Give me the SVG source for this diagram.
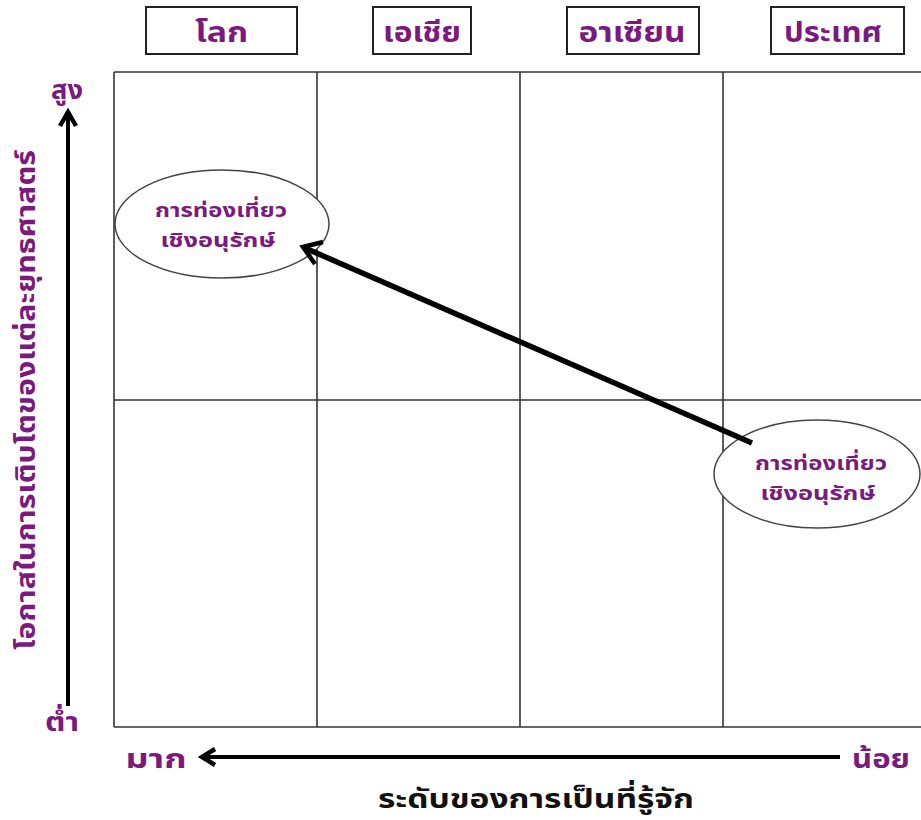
<svg xmlns="http://www.w3.org/2000/svg" width="921" height="820" viewBox="0 0 921 820">
<style>
.t{font-family:"Noto Sans Thai","Tahoma","DejaVu Sans",sans-serif;font-weight:bold;fill:#7b1a7e}
.h{font-size:28px;text-anchor:middle}
.e{font-size:20px;text-anchor:middle}
.box{fill:#fff;stroke:#222;stroke-width:2}
.grid{stroke:#333;stroke-width:1.6;fill:none}
.ell{fill:#fff;stroke:#444;stroke-width:1.5}
.ax{stroke:#000;fill:none;stroke-width:4}
.head{stroke:#000;fill:none;stroke-width:4.5;stroke-linejoin:miter}
</style>
<rect width="921" height="820" fill="#fff"/>
<g id="grid">
<line class="grid" x1="114" y1="72" x2="921" y2="72" stroke-width="3" stroke="#666"/>
<line class="grid" x1="114" y1="727" x2="921" y2="727" stroke-width="2.5" stroke="#444"/>
<line class="grid" x1="114" y1="72" x2="114" y2="727" stroke-width="2.5" stroke="#555"/>
<line class="grid" x1="317" y1="72" x2="317" y2="727"/>
<line class="grid" x1="520" y1="72" x2="520" y2="727"/>
<line class="grid" x1="723" y1="72" x2="723" y2="727"/>
<line class="grid" x1="114" y1="400" x2="921" y2="400"/>
</g>
<g id="header-world"><rect class="box" x="146" y="7" width="151" height="47"/><text class="t h" x="221.5" y="42" textLength="53" lengthAdjust="spacingAndGlyphs">โลก</text></g>
<g id="header-asia"><rect class="box" x="373" y="7" width="98" height="47"/><text class="t h" x="422" y="42" textLength="78" lengthAdjust="spacingAndGlyphs">เอเชีย</text></g>
<g id="header-asean"><rect class="box" x="567" y="7" width="132" height="47"/><text class="t h" x="632" y="42" textLength="107" lengthAdjust="spacingAndGlyphs">อาเซียน</text></g>
<g id="header-country"><rect class="box" x="771" y="7" width="133" height="47"/><text class="t h" x="833" y="42" textLength="98" lengthAdjust="spacingAndGlyphs">ประเทศ</text></g>
<g id="node-top">
<ellipse class="ell" cx="222" cy="224" rx="107" ry="54"/>
<text class="t e" x="221" y="217" textLength="132" lengthAdjust="spacingAndGlyphs">การท่องเที่ยว</text>
<text class="t e" x="218" y="247" textLength="115" lengthAdjust="spacingAndGlyphs">เชิงอนุรักษ์</text>
</g>
<g id="node-bottom">
<ellipse class="ell" cx="817" cy="474" rx="103" ry="54"/>
<text class="t e" x="821" y="470" textLength="132" lengthAdjust="spacingAndGlyphs">การท่องเที่ยว</text>
<text class="t e" x="818" y="500" textLength="115" lengthAdjust="spacingAndGlyphs">เชิงอนุรักษ์</text>
</g>
<g id="labels">
<text class="t" x="67" y="99" font-size="26" text-anchor="middle" textLength="32" lengthAdjust="spacingAndGlyphs">สูง</text>
<text class="t" x="62" y="731" font-size="26" text-anchor="middle" textLength="34" lengthAdjust="spacingAndGlyphs">ต่ำ</text>
<text class="t" x="156" y="768" font-size="26" text-anchor="middle" textLength="61" lengthAdjust="spacingAndGlyphs">มาก</text>
<text class="t" x="881" y="768" font-size="26" text-anchor="middle" textLength="58" lengthAdjust="spacingAndGlyphs">น้อย</text>
<text class="t" x="536" y="808" font-size="27" text-anchor="middle" style="fill:#111" textLength="316" lengthAdjust="spacingAndGlyphs">ระดับของการเป็นที่รู้จัก</text>
<text class="t" x="0" y="0" font-size="26" text-anchor="middle" transform="translate(35 400) rotate(-90)" textLength="500" lengthAdjust="spacingAndGlyphs">โอกาสในการเติบโตของแต่ละยุทธศาสตร์</text>
</g>
<g id="connectors">
<line class="ax" x1="68" y1="706" x2="68" y2="114"/>
<polyline class="head" points="60,126 68,112 76,126"/>
<line class="ax" x1="840" y1="757" x2="204" y2="757"/>
<polyline class="head" points="215,749 202,757 215,765"/>
<line x1="752" y1="443" x2="305" y2="248" stroke="#000" stroke-width="5.5"/>
<polyline class="head" stroke-width="5.5" points="323,242 303,247 315,264"/>
</g>
</svg>
